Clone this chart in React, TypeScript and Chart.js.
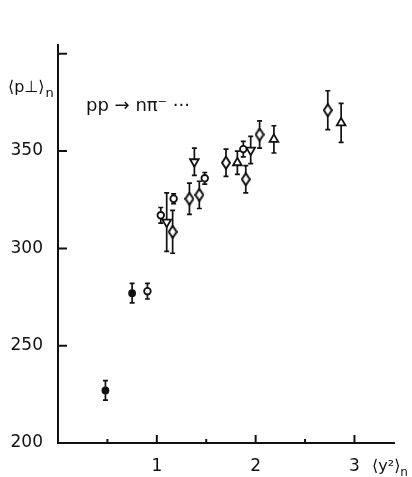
import { useEffect, useRef } from 'react';
import { Chart, registerables } from 'chart.js';
Chart.register(...registerables);

// ---- data ----
const filledX = [0.48, 0.75];
const filledY = [227, 277];
const filledErr = [5, 5];

const circleX = [0.905, 1.04, 1.17, 1.485, 1.875];
const circleY = [278, 317, 325.5, 336, 351];
const circleErr = [4, 4, 2.5, 3, 4];

const diamondX = [1.16, 1.33, 1.43, 1.7, 1.9, 2.04, 2.73];
const diamondY = [308.5, 325.5, 327.5, 344, 335.5, 358.5, 371];
const diamondErr = [11, 8, 7, 7, 7, 7, 10];

const triUpX = [1.815, 2.185, 2.865];
const triUpY = [344, 356, 364.5];
const triUpErr = [6, 7, 10];

const triDownX = [1.1, 1.38, 1.95];
const triDownY = [313.5, 344.5, 350.5];
const triDownErr = [15, 7, 7];

const xMajorTicks = [1, 2, 3];
const xMinorTicks = [0.5, 1.5, 2.5];
const yTicks = [250, 300, 350, 400];
const yLabelled = [200, 250, 300, 350];

const FONT = 'DejaVu Sans';
const INK = '#111';

function makeDiamond(): HTMLCanvasElement {
  const c = document.createElement('canvas');
  c.width = 10;
  c.height = 14;
  const g = c.getContext('2d')!;
  g.beginPath();
  g.moveTo(5, 1);
  g.lineTo(9, 7);
  g.lineTo(5, 13);
  g.lineTo(1, 7);
  g.closePath();
  g.fillStyle = '#fff';
  g.fill();
  g.lineWidth = 2;
  g.strokeStyle = INK;
  g.stroke();
  return c;
}

function pts(xs: number[], ys: number[]) {
  return xs.map((x, i) => ({ x, y: ys[i] }));
}

const decor = {
  id: 'decor',
  beforeDatasetsDraw(chart: any) {
    const ctx = chart.ctx;
    const xs = chart.scales.x;
    const ys = chart.scales.y;
    ctx.save();
    ctx.strokeStyle = INK;
    ctx.lineWidth = 1.7;
    chart.data.datasets.forEach((ds: any) => {
      ds.data.forEach((p: any, i: number) => {
        const e = ds.errors[i];
        const px = xs.getPixelForValue(p.x);
        const top = ys.getPixelForValue(p.y + e);
        const bot = ys.getPixelForValue(p.y - e);
        ctx.beginPath();
        ctx.moveTo(px, top);
        ctx.lineTo(px, bot);
        ctx.moveTo(px - 2.5, top);
        ctx.lineTo(px + 2.5, top);
        ctx.moveTo(px - 2.5, bot);
        ctx.lineTo(px + 2.5, bot);
        ctx.stroke();
      });
    });
    ctx.restore();
  },
  afterDraw(chart: any) {
    const ctx = chart.ctx;
    const xs = chart.scales.x;
    const ys = chart.scales.y;
    const { left, bottom } = chart.chartArea;
    ctx.save();
    ctx.strokeStyle = INK;
    ctx.lineWidth = 2;
    ctx.beginPath();
    xMajorTicks.forEach((v) => {
      const px = xs.getPixelForValue(v);
      ctx.moveTo(px, bottom);
      ctx.lineTo(px, bottom - 8);
    });
    xMinorTicks.forEach((v) => {
      const px = xs.getPixelForValue(v);
      ctx.moveTo(px, bottom);
      ctx.lineTo(px, bottom - 4);
    });
    yTicks.forEach((v) => {
      const py = ys.getPixelForValue(v);
      ctx.moveTo(left, py);
      ctx.lineTo(left + 9, py);
    });
    ctx.stroke();

    ctx.fillStyle = INK;
    ctx.textBaseline = 'alphabetic';
    ctx.textAlign = 'left';
    // y-axis title
    ctx.font = `16px "${FONT}"`;
    const yt = '⟨p⊥⟩';
    ctx.fillText(yt, 8, 92);
    const w1 = ctx.measureText(yt).width;
    ctx.font = `13px "${FONT}"`;
    ctx.fillText('n', 8 + w1 + 1, 97);
    // reaction label
    ctx.font = `18px "${FONT}"`;
    ctx.fillText('pp → nπ⁻ ···', 86, 111);
    // x-axis title
    ctx.font = `16px "${FONT}"`;
    const xt = '⟨y²⟩';
    ctx.fillText(xt, 372, 471);
    const w2 = ctx.measureText(xt).width;
    ctx.font = `12px "${FONT}"`;
    ctx.fillText('n', 372 + w2, 476);
    ctx.restore();
  },
};

export default function App() {
  const ref = useRef<HTMLCanvasElement>(null);
  useEffect(() => {
    document.body.style.margin = '0';
    const diamond = makeDiamond();
    const base = {
      borderColor: INK,
      borderWidth: 1.8,
      backgroundColor: '#fff',
      showLine: false,
    };
    const chart = new Chart(ref.current!, {
      type: 'scatter',
      data: {
        datasets: [
          { ...base, data: pts(filledX, filledY), errors: filledErr, pointStyle: 'circle', pointRadius: 3, backgroundColor: INK },
          { ...base, data: pts(circleX, circleY), errors: circleErr, pointStyle: 'circle', pointRadius: 3.3 },
          { ...base, data: pts(diamondX, diamondY), errors: diamondErr, pointStyle: diamond as any, pointRadius: 6 },
          { ...base, data: pts(triUpX, triUpY), errors: triUpErr, pointStyle: 'triangle', pointRadius: 5 },
          { ...base, data: pts(triDownX, triDownY), errors: triDownErr, pointStyle: 'triangle', pointRotation: 180, pointRadius: 5 },
        ] as any,
      },
      options: {
        animation: false,
        responsive: true,
        maintainAspectRatio: false,
        layout: { padding: { top: 45, right: 18, left: 0, bottom: 0 } },
        plugins: { legend: { display: false }, tooltip: { enabled: false } },
        scales: {
          x: {
            type: 'linear',
            min: 0,
            max: 3.4,
            grid: { display: false },
            border: { display: true, color: INK, width: 2 },
            ticks: {
              stepSize: 0.5,
              includeBounds: false,
              autoSkip: false,
              maxRotation: 0,
              padding: 5,
              color: INK,
              font: { family: FONT, size: 17 },
              callback: (v: any) => (xMajorTicks.includes(Number(v)) ? String(v) : ''),
            },
            afterFit: (s: any) => {
              s.height = 34;
            },
          },
          y: {
            type: 'linear',
            min: 200,
            max: 404.5,
            grid: { display: false },
            border: { display: true, color: INK, width: 2 },
            ticks: {
              stepSize: 50,
              includeBounds: false,
              autoSkip: false,
              padding: 7,
              color: INK,
              font: { family: FONT, size: 17 },
              callback: (v: any) => (yLabelled.includes(Number(v)) ? String(v) : ''),
            },
            afterFit: (s: any) => {
              s.width = 58;
            },
          },
        },
      },
      plugins: [decor],
    });
    return () => chart.destroy();
  }, []);
  return (
    <div style={{ position: 'absolute', left: 0, top: 0, width: 412, height: 477, background: '#fff' }}>
      <canvas ref={ref} />
    </div>
  );
}
